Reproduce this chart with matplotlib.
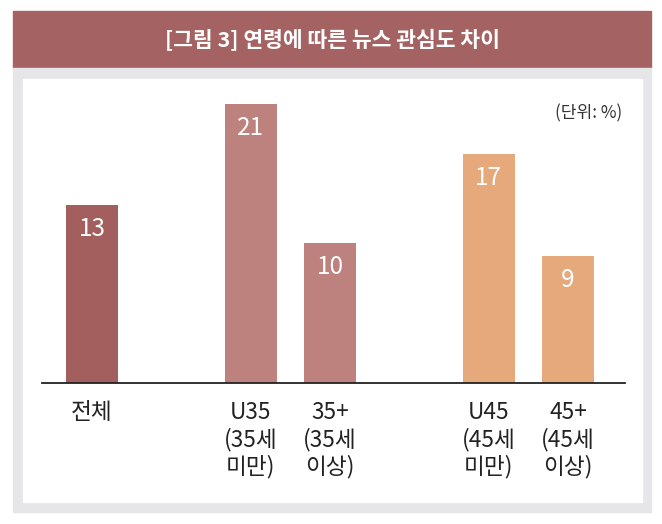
import matplotlib.pyplot as plt
from matplotlib.patches import Rectangle

plt.rcParams['font.family'] = ['Noto Sans CJK KR', 'DejaVu Sans']

# data (bar heights, labels as printed)
labels = ['전체', 'U35\n(35세\n미만)', '35+\n(35세\n이상)', 'U45\n(45세\n미만)', '45+\n(45세\n이상)']
values = [13.2, 20.7, 10.4, 17.0, 9.4]
value_labels = ['13', '21', '10', '17', '9']
positions = [0, 2, 3, 5, 6]
colors = ['#A35F5E', '#BD817E', '#BD817E', '#E5A97B', '#E5A97B']
title = '[그림 3] 연령에 따른 뉴스 관심도 차이'
unit = '(단위: %)'

W, H = 662, 524
fig = plt.figure(figsize=(W / 100, H / 100), dpi=100)
fig.patch.set_facecolor('white')

def box(x0, y0, x1, y1, c):
    # pixel coords from top-left
    fig.patches.append(Rectangle((x0 / W, 1 - y1 / H), (x1 - x0) / W, (y1 - y0) / H,
                                 transform=fig.transFigure, color=c, zorder=-5))

box(13, 11, 651, 68, '#A46362')
box(13, 68, 651, 512, '#E6E6E8')
box(23, 79, 642, 502, 'white')

fig.text(332 / W, 1 - 40 / H, title, color='white', fontsize=15.5, fontweight='bold',
         ha='center', va='center')
fig.text(622 / W, 1 - 113 / H, unit, color='#333333', fontsize=12.3,
         ha='right', va='center')

# axes: baseline at y=383, x from 42 to 625
ax_l, ax_r = 42, 625
ax_b, ax_t = 383, 83
ax = fig.add_axes([ax_l / W, 1 - ax_b / H, (ax_r - ax_l) / W, (ax_b - ax_t) / H])
ax.set_zorder(5)
ax.set_facecolor('none')
unit_px = 79.33
x0 = (ax_l - 92) / unit_px
x1 = (ax_r - 92) / unit_px
ax.set_xlim(x0, x1)
ax.set_ylim(0, (ax_b - ax_t) / 13.5)

bars = ax.bar(positions, values, width=0.655, color=colors, zorder=2)
for p, v, t in zip(positions, values, value_labels):
    ax.annotate(t, (p, v), xytext=(0, -24), textcoords='offset pixels',
                ha='center', va='center', color='white', fontsize=17.5)

for s in ['top', 'right', 'left']:
    ax.spines[s].set_visible(False)
ax.spines['bottom'].set_color('#222222')
ax.spines['bottom'].set_linewidth(1.3)
ax.set_yticks([])
ax.set_xticks(positions)
ax.set_xticklabels(labels, fontsize=16.3, color='#222222', linespacing=1.2, va='top')
ax.tick_params(axis='x', length=0, pad=13)

fig.savefig('out.png', dpi=100)
